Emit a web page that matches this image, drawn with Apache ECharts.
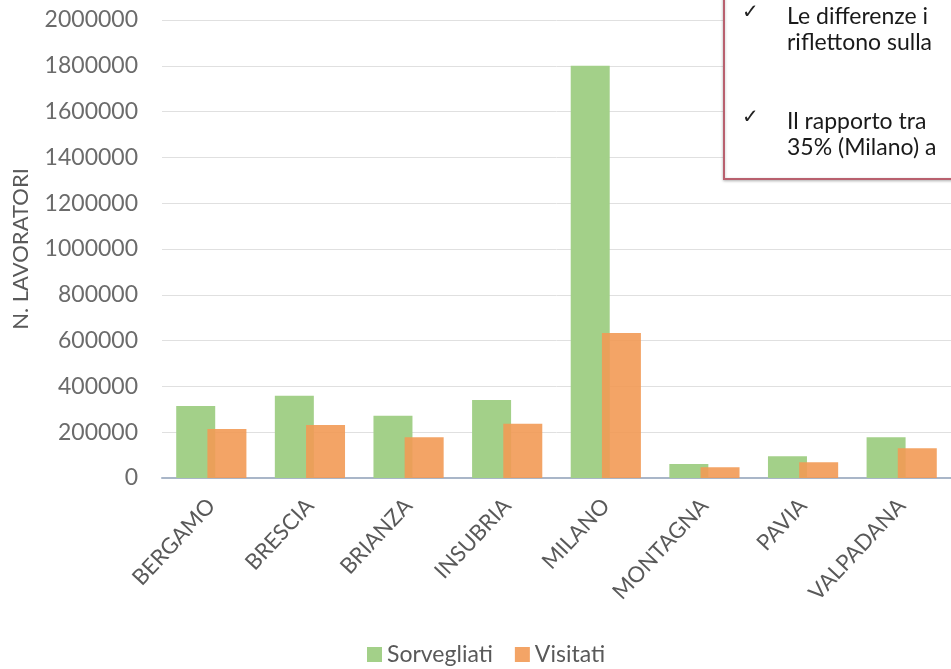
<!DOCTYPE html>
<html>
<head>
<meta charset="utf-8">
<script src="https://cdn.jsdelivr.net/npm/echarts@6/dist/echarts.min.js"></script>
<style>
  html, body { margin: 0; padding: 0; background: #fff; }
  #chart { width: 951px; height: 669px; }
</style>
</head>
<body>
<div id="chart"></div>
<script>
// values
const categories = ['BERGAMO', 'BRESCIA', 'BRIANZA', 'INSUBRIA', 'MILANO', 'MONTAGNA', 'PAVIA', 'VALPADANA']
const sorvegliati = [314000, 359000, 272000, 341000, 1800000, 61000, 95000, 178000]
const visitati = [214000, 231000, 178000, 237000, 633000, 47000, 69000, 130000]
const seriesNames = ['Sorvegliati', 'Visitati']
const noteLines = ['Le differenze i', 'riflettono sulla', 'Il rapporto tra', '35% (Milano) a']

const font = 'Lato, "Open Sans", sans-serif'
const myChart = echarts.init(document.getElementById('chart'))

const option = {
  animation: false,
  textStyle: { fontFamily: font },
  grid: { left: 162, right: -11, top: 20, bottom: 191, containLabel: false },
  legend: {
    data: seriesNames,
    left: 362,
    top: 638,
    itemWidth: 15,
    itemHeight: 15,
    itemGap: 22,
    icon: 'rect',
    textStyle: { fontSize: 23, color: '#595959', fontFamily: font },
  },
  xAxis: {
    type: 'category',
    data: categories,
    axisTick: { show: false },
    axisLine: { lineStyle: { color: '#a9b6c8', width: 2 } },
    axisLabel: {
      rotate: 47,
      fontSize: 22,
      color: '#595959',
      margin: 24,
      interval: 0,
    },
  },
  yAxis: {
    type: 'value',
    min: 0,
    max: 2000000,
    interval: 200000,
    name: 'N. LAVORATORI',
    nameLocation: 'middle',
    nameRotate: 90,
    nameGap: 130,
    nameTextStyle: { fontSize: 22, color: '#595959', fontFamily: font },
    axisLine: { show: false },
    axisTick: { show: false },
    axisLabel: { fontSize: 23, color: '#6b6b6b', margin: 24, formatter: v => String(v) },
    splitLine: { lineStyle: { color: '#e0e0e0', width: 1 } },
  },
  series: [
    {
      name: seriesNames[0],
      type: 'bar',
      data: sorvegliati,
      barWidth: 39,
      barGap: '-20%',
      itemStyle: { color: '#a3d089' },
    },
    {
      name: seriesNames[1],
      type: 'bar',
      data: visitati,
      barWidth: 39,
      itemStyle: { color: '#f29a55', opacity: 0.9 },
    },
  ],
  graphic: [
    {
      type: 'rect',
      z: 100,
      shape: { x: 724, y: -10, width: 300, height: 189 },
      style: { fill: '#ffffff', stroke: '#b8606e', lineWidth: 2, shadowBlur: 3, shadowColor: 'rgba(0,0,0,0.25)', shadowOffsetY: 1 },
    },
    { type: 'text', z: 101, x: 742, y: 13, style: { text: '✓', font: '20px "DejaVu Sans"', fill: '#222', verticalAlign: 'middle' } },
    { type: 'text', z: 101, x: 742, y: 118, style: { text: '✓', font: '20px "DejaVu Sans"', fill: '#222', verticalAlign: 'middle' } },
    { type: 'text', z: 101, x: 787, y: 17, style: { text: noteLines[0], font: '23px ' + font, fill: '#1a1a1a', verticalAlign: 'middle' } },
    { type: 'text', z: 101, x: 787, y: 43, style: { text: noteLines[1], font: '23px ' + font, fill: '#1a1a1a', verticalAlign: 'middle' } },
    { type: 'text', z: 101, x: 787, y: 122, style: { text: noteLines[2], font: '23px ' + font, fill: '#1a1a1a', verticalAlign: 'middle' } },
    { type: 'text', z: 101, x: 787, y: 148, style: { text: noteLines[3], font: '23px ' + font, fill: '#1a1a1a', verticalAlign: 'middle' } },
  ],
}

myChart.setOption(option)
</script>
</body>
</html>
